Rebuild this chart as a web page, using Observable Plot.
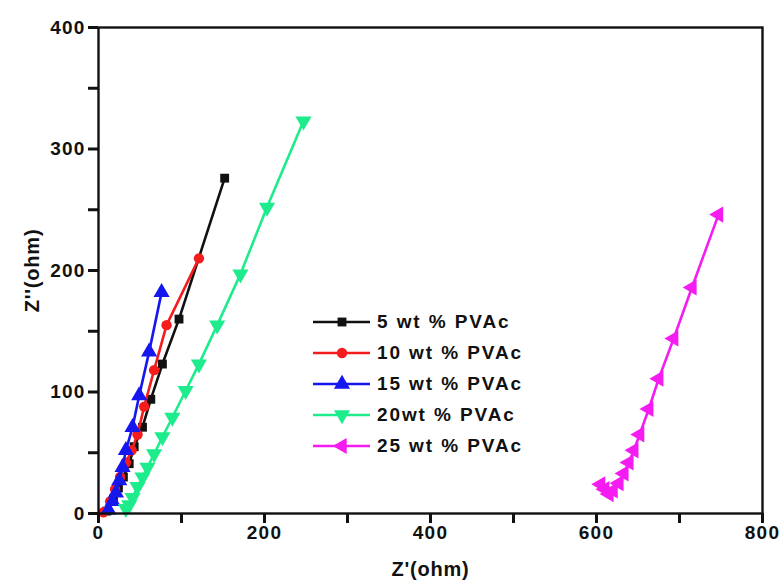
<!DOCTYPE html>
<html>
<head>
<meta charset="utf-8">
<script src="https://cdn.jsdelivr.net/npm/d3@7"></script>
<script src="https://cdn.jsdelivr.net/npm/@observablehq/plot@0.6"></script>
<style>
  html, body { margin: 0; padding: 0; background: #fff; }
  #chart { position: relative; width: 784px; height: 584px; font-family: "Liberation Sans", Arial, sans-serif; }
  #legend { position: absolute; left: 312px; top: 307px; }
  .item { display: flex; align-items: center; height: 30.8px; }
  .item span { font-weight: bold; font-size: 19px; letter-spacing: 1.9px; color: #111; margin-left: 5px; }
</style>
</head>
<body>
<div id="chart"><div id="legend"></div></div>
<script>
// Series labels and colours
const seriesNames = ["5 wt % PVAc", "10 wt % PVAc", "15 wt % PVAc", "20wt % PVAc", "25 wt % PVAc"];
const seriesColors = ["#111111", "#f41c1c", "#1616ee", "#1eec8c", "#f41cf0"];

// Nyquist data: Z' (real part) and Z'' (imaginary part), in ohm
const re5  = [10, 18, 24, 30, 37, 43, 53, 63, 77, 97, 152];
const im5  = [2, 12, 21, 30, 41, 55, 71, 94, 123, 160, 276];
const re10 = [6, 14, 20, 26, 33, 40, 47, 55, 67, 82, 121];
const im10 = [1, 10, 20, 30, 42, 52, 65, 88, 118, 155, 210];
const re15 = [12, 17, 21, 25, 29, 33, 41, 49, 61, 76];
const im15 = [3, 10, 17, 27, 38, 52, 71, 97, 133, 182];
const re20 = [33, 37, 41, 47, 53, 59, 67, 77, 89, 105, 121, 143, 171, 203, 247];
const im20 = [4, 7, 13, 22, 30, 38, 49, 63, 79, 101, 123, 155, 197, 252, 323];
const re25 = [605, 610, 615, 620, 627, 633, 639, 645, 652, 663, 675, 693, 715, 747];
const im25 = [24, 20, 16, 19, 25, 33, 42, 52, 65, 86, 111, 144, 186, 246];

// Labelled ticks and unlabelled minor ticks
const xTicks = [0, 200, 400, 600, 800];
const xMinor = [100, 300, 500, 700];
const yTicks = [0, 100, 200, 300, 400];
const yMinor = [50, 150, 250, 350];

// Triangle symbols pointing in other directions, rotated from d3.symbolTriangle
function rotatedSymbol(sym, angle) {
  const c = Math.cos(angle), s = Math.sin(angle);
  return {
    draw(ctx, size) {
      const proxy = {
        moveTo: (x, y) => ctx.moveTo(x * c - y * s, x * s + y * c),
        lineTo: (x, y) => ctx.lineTo(x * c - y * s, x * s + y * c),
        closePath: () => ctx.closePath()
      };
      sym.draw(proxy, size);
    }
  };
}
const seriesSymbols = [
  d3.symbolSquare,
  d3.symbolCircle,
  d3.symbolTriangle,
  rotatedSymbol(d3.symbolTriangle, Math.PI),
  rotatedSymbol(d3.symbolTriangle, -Math.PI / 2)
];
const symbolSizes = [5, 5.2, 6, 6, 6];

const reArrays = [re5, re10, re15, re20, re25];
const imArrays = [im5, im10, im15, im20, im25];
const rows = [];
reArrays.forEach((re, i) => re.forEach((x, j) => rows.push({series: i, x, y: imArrays[i][j]})));

const marks = [];
seriesNames.forEach((name, i) => {
  const d = rows.filter(r => r.series === i);
  marks.push(Plot.line(d, {x: "x", y: "y", stroke: seriesColors[i], strokeWidth: 2.6}));
  marks.push(Plot.dot(d, {x: "x", y: "y", fill: seriesColors[i], stroke: "none", symbol: () => seriesSymbols[i], r: symbolSizes[i]}));
});

const tickLen = 10;
const chart = Plot.plot({
  width: 784,
  height: 584,
  marginLeft: 98,
  marginRight: 22,
  marginTop: 27,
  marginBottom: 71,
  style: {fontFamily: "'Liberation Sans', Arial, sans-serif", fontWeight: "bold", fontSize: "19px", color: "#111", background: "#fff"},
  x: {domain: [0, 800]},
  y: {domain: [0, 400]},
  symbol: {type: "identity"},
  marks: [
    ...marks,
    Plot.frame({stroke: "#111", strokeWidth: 2.4}),
    // outward tick marks on the bottom and left edges
    Plot.ruleX([...xTicks, ...xMinor], {x: d => d, y1: 0, y2: 0, insetBottom: -tickLen, stroke: "#111", strokeWidth: 3}),
    Plot.ruleY([...yTicks, ...yMinor], {y: d => d, x1: 0, x2: 0, insetLeft: -tickLen, stroke: "#111", strokeWidth: 3}),
    Plot.axisX({ticks: xTicks, tickSize: 0, tickPadding: tickLen + 2, tickFormat: d3.format("d"),
      label: "Z'(ohm)", labelAnchor: "center", labelOffset: 62, labelArrow: "none"}),
    Plot.axisY({ticks: yTicks, tickSize: 0, tickPadding: tickLen + 3, tickFormat: d3.format("d"),
      label: "Z''(ohm)", labelAnchor: "center", labelOffset: 74, labelArrow: "none"})
  ]
});
// letter spacing on tick labels and larger axis titles
d3.select(chart).selectAll("[aria-label='x-axis tick label'] text, [aria-label='y-axis tick label'] text")
  .style("letter-spacing", "1.2px");
d3.select(chart).selectAll("[aria-label='x-axis label'] text, [aria-label='y-axis label'] text")
  .style("font-size", "20px").style("letter-spacing", "0.8px");
document.getElementById("chart").prepend(chart);

// Legend: line sample with marker, then series name
const legend = d3.select("#legend");
seriesNames.forEach((name, i) => {
  const item = legend.append("div").attr("class", "item");
  const svg = item.append("svg").attr("width", 60).attr("height", 20);
  svg.append("line").attr("x1", 1).attr("x2", 58).attr("y1", 10).attr("y2", 10)
    .attr("stroke", seriesColors[i]).attr("stroke-width", 2.6);
  svg.append("path").attr("transform", "translate(30,10)")
    .attr("d", d3.symbol(seriesSymbols[i], Math.PI * symbolSizes[i] * symbolSizes[i])())
    .attr("fill", seriesColors[i]);
  item.append("span").text(name);
});
</script>
</body>
</html>
